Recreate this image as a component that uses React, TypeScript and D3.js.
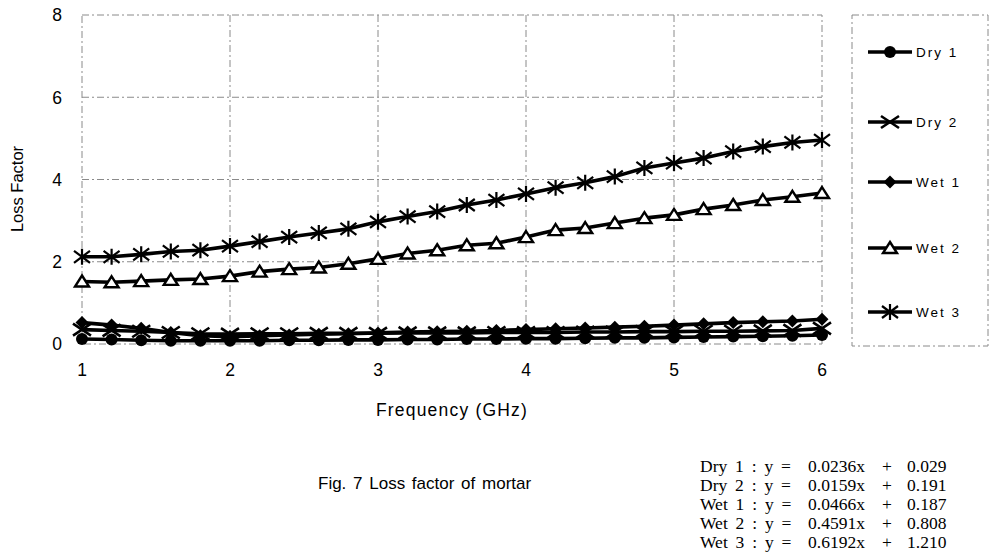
import React from "react";
import * as d3 from "d3";

const frequency = [1.0, 1.2, 1.4, 1.6, 1.8, 2.0, 2.2, 2.4, 2.6, 2.8, 3.0, 3.2, 3.4, 3.6, 3.8, 4.0, 4.2, 4.4, 4.6, 4.8, 5.0, 5.2, 5.4, 5.6, 5.8, 6.0];

const dry1 = [0.12, 0.11, 0.09, 0.08, 0.08, 0.08, 0.08, 0.09, 0.09, 0.1, 0.1, 0.11, 0.11, 0.12, 0.12, 0.13, 0.13, 0.14, 0.15, 0.15, 0.16, 0.17, 0.18, 0.19, 0.2, 0.22];
const dry2 = [0.35, 0.33, 0.31, 0.28, 0.25, 0.24, 0.25, 0.25, 0.26, 0.26, 0.26, 0.27, 0.27, 0.27, 0.28, 0.28, 0.28, 0.29, 0.29, 0.3, 0.3, 0.31, 0.31, 0.32, 0.33, 0.38];
const wet1 = [0.52, 0.46, 0.38, 0.28, 0.2, 0.18, 0.2, 0.22, 0.24, 0.25, 0.27, 0.29, 0.3, 0.31, 0.33, 0.35, 0.37, 0.39, 0.41, 0.43, 0.46, 0.49, 0.52, 0.54, 0.56, 0.6];
const wet2 = [1.52, 1.5, 1.53, 1.56, 1.58, 1.65, 1.76, 1.82, 1.86, 1.95, 2.07, 2.2, 2.28, 2.4, 2.45, 2.6, 2.77, 2.82, 2.94, 3.06, 3.14, 3.28, 3.38, 3.5, 3.58, 3.67];
const wet3 = [2.12, 2.12, 2.18, 2.25, 2.28, 2.38, 2.49, 2.6, 2.7, 2.8, 2.97, 3.1, 3.22, 3.38, 3.5, 3.65, 3.8, 3.92, 4.07, 4.28, 4.4, 4.52, 4.68, 4.8, 4.9, 4.96];

const seriesNames = ["Dry 1", "Dry 2", "Wet 1", "Wet 2", "Wet 3"];
const seriesMarkers = ["circle", "x", "diamond", "triangle", "asterisk"];
const xTicks = [1, 2, 3, 4, 5, 6];
const yTicks = [0, 2, 4, 6, 8];
const eqNames = ["Dry 1 : y =", "Dry 2 : y =", "Wet 1 : y =", "Wet 2 : y =", "Wet 3 : y ="];
const eqSlopes = ["0.0236x", "0.0159x", "0.0466x", "0.4591x", "0.6192x"];
const eqIntercepts = ["0.029", "0.191", "0.187", "0.808", "1.210"];

const allSeries = [dry1, dry2, wet1, wet2, wet3];

const W = 996, H = 555;
const plot = { left: 82, right: 822, top: 15, bottom: 344 };

function Marker({ type, x, y }: { type: string; x: number; y: number }) {
  switch (type) {
    case "circle":
      return <circle cx={x} cy={y} r={6} fill="#000" />;
    case "x":
      return (
        <path d={`M${x - 9},${y - 6}L${x + 9},${y + 6}M${x - 9},${y + 6}L${x + 9},${y - 6}`} stroke="#000" strokeWidth={2.6} fill="none" />
      );
    case "diamond":
      return <path d={`M${x},${y - 6.5}L${x + 6.5},${y}L${x},${y + 6.5}L${x - 6.5},${y}Z`} fill="#000" />;
    case "triangle":
      return <path d={`M${x},${y - 6}L${x + 7},${y + 5}L${x - 7},${y + 5}Z`} fill="#fff" stroke="#000" strokeWidth={2.4} />;
    case "asterisk":
      return (
        <path d={`M${x - 8},${y - 6}L${x + 8},${y + 6}M${x - 8},${y + 6}L${x + 8},${y - 6}M${x},${y - 8}L${x},${y + 8}`} stroke="#000" strokeWidth={2.2} fill="none" />
      );
    default:
      return null;
  }
}

export default function App() {
  const x = d3.scaleLinear().domain([1, 6]).range([plot.left, plot.right]);
  const y = d3.scaleLinear().domain([0, 8]).range([plot.bottom, plot.top]);
  const line = d3
    .line<number>()
    .x((_, i) => x(frequency[i]))
    .y((d) => y(d));

  const legendY = [52, 122, 182, 248, 312];
  const grid = "#8a8a8a";
  const dash = "7 3 2 3";
  const eqY = [472, 491, 510, 529, 548];

  return (
    <svg width={W} height={H} style={{ position: "absolute", left: 0, top: 0, background: "#fff" }} fontFamily="'Liberation Sans', Arial, sans-serif">
      <rect x={0} y={0} width={W} height={H} fill="#fff" />
      {/* grid */}
      {xTicks.slice(1, -1).map((t) => (
        <line key={"gx" + t} x1={x(t)} x2={x(t)} y1={plot.top} y2={plot.bottom} stroke={grid} strokeWidth={1} strokeDasharray={dash} />
      ))}
      {yTicks.slice(1, -1).map((t) => (
        <line key={"gy" + t} x1={plot.left} x2={plot.right} y1={y(t)} y2={y(t)} stroke={grid} strokeWidth={1} strokeDasharray={dash} />
      ))}
      <rect x={plot.left} y={plot.top} width={plot.right - plot.left} height={plot.bottom - plot.top} fill="none" stroke={grid} strokeWidth={1} strokeDasharray={dash} />
      {/* series */}
      {allSeries.map((s, si) => (
        <g key={"s" + si}>
          <path d={line(s) || ""} fill="none" stroke="#000" strokeWidth={3.6} strokeLinejoin="round" />
          {s.map((v, i) => (
            <Marker key={i} type={seriesMarkers[si]} x={x(frequency[i])} y={y(v)} />
          ))}
        </g>
      ))}
      {/* y ticks */}
      {yTicks.map((t) => (
        <text key={"yt" + t} x={62} y={y(t)} dy="0.36em" textAnchor="end" fontSize={17.5}>
          {t}
        </text>
      ))}
      {xTicks.map((t) => (
        <text key={"xt" + t} x={x(t)} y={376} textAnchor="middle" fontSize={17.5}>
          {t}
        </text>
      ))}
      <text transform={`translate(23,189) rotate(-90)`} textAnchor="middle" fontSize={16.5}>
        Loss Factor
      </text>
      <text x={452} y={416} textAnchor="middle" fontSize={17.5} letterSpacing={1.2}>
        Frequency (GHz)
      </text>
      {/* legend */}
      <rect x={852} y={15} width={136} height={331} fill="none" stroke={grid} strokeWidth={1} strokeDasharray={dash} />
      {seriesNames.map((n, i) => (
        <g key={"lg" + i}>
          <line x1={868} x2={912} y1={legendY[i]} y2={legendY[i]} stroke="#000" strokeWidth={3.6} />
          <Marker type={seriesMarkers[i]} x={890} y={legendY[i]} />
          <text x={916} y={legendY[i]} dy="0.36em" fontSize={13.5} letterSpacing={2}>
            {n}
          </text>
        </g>
      ))}
      {/* caption */}
      <text x={318} y={489} fontSize={17} wordSpacing={2}>
        Fig. 7 Loss factor of mortar
      </text>
      {/* equations */}
      {eqNames.map((n, i) => (
        <g key={"eq" + i} fontFamily="'Liberation Serif', 'DejaVu Serif', serif" fontSize={17.5}>
          <text x={700} y={eqY[i]} wordSpacing={3.5}>{n}</text>
          <text x={808} y={eqY[i]}>{eqSlopes[i]}</text>
          <text x={882} y={eqY[i]}>+</text>
          <text x={907} y={eqY[i]}>{eqIntercepts[i]}</text>
        </g>
      ))}
    </svg>
  );
}
